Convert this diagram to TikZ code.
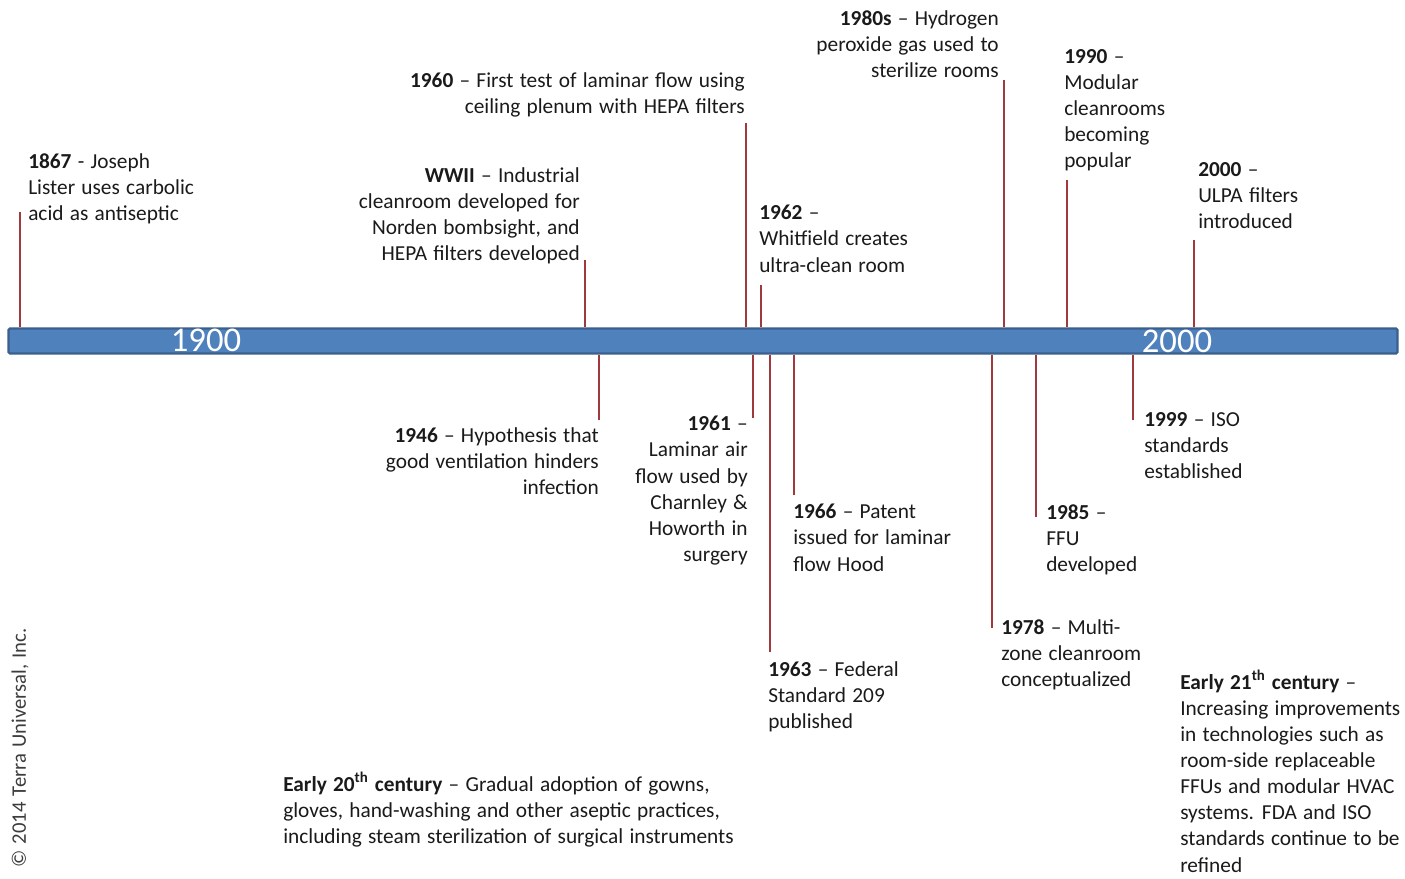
\documentclass[tikz,border=0pt]{standalone}
\usepackage{fontspec}
\setmainfont{Carlito}[WordSpace=1.3]
\usepackage{tikz}
\usetikzlibrary{positioning}
\definecolor{barblue}{HTML}{4F81BD}
\definecolor{bardark}{HTML}{3A5F8C}
\definecolor{stemred}{HTML}{A0393B}
\definecolor{ink}{HTML}{1A1A1A}

\begin{document}
\begin{tikzpicture}[
  x=0.75pt,y=-0.75pt,
  note/.style={anchor=north west,align=left,inner sep=0pt,text=ink,font=\fontsize{16}{19.6}\selectfont},
  noter/.style={note,anchor=north east,align=right},
  stem/.style={draw=stemred,line width=1.5pt},
  bar/.style={draw=bardark,fill=barblue,line width=1.6pt,rounded corners=1pt,minimum width=1389*0.75pt,minimum height=25*0.75pt,inner sep=0pt},
  year/.style={text=white,inner sep=0pt,font=\fontsize{26}{26}\selectfont}
]
\useasboundingbox (0,0) rectangle (1405,878);
% the time bar
\node[bar] (bar) at (703,341) {};
\node[year] (y1900) at (206,340) {1900};
\node[year] (y2000) at (1177,341) {2000};

% events above the bar
\node[note] (n1867) at (28,153) {\textbf{1867} - Joseph\\Lister uses carbolic\\acid as antiseptic};
\node[noter] (nwwii) at (580,167) {\textbf{WWII} -- Industrial\\cleanroom developed for\\Norden bombsight, and\\HEPA filters developed};
\node[noter] (n1960) at (745,72) {\textbf{1960} -- First test of laminar flow using\\ceiling plenum with HEPA filters};
\node[note] (n1962) at (759,205) {\textbf{1962} --\\Whitfield creates\\ultra-clean room};
\node[noter] (n1980) at (999,10) {\textbf{1980s} -- Hydrogen\\peroxide gas used to\\sterilize rooms};
\node[note] (n1990) at (1064,49) {\textbf{1990} --\\Modular\\cleanrooms\\becoming\\popular};
\node[note] (n2000) at (1198,162) {\textbf{2000} --\\ULPA filters\\introduced};

% events below the bar
\node[noter] (n1946) at (599,427) {\textbf{1946} -- Hypothesis that\\good ventilation hinders\\infection};
\node[noter] (n1961) at (748,416) {\textbf{1961} --\\Laminar air\\flow used by\\Charnley \&\\Howorth in\\surgery};
\node[note] (n1966) at (793,504) {\textbf{1966} -- Patent\\issued for laminar\\flow Hood};
\node[note] (n1963) at (768,661) {\textbf{1963} -- Federal\\Standard 209\\published};
\node[note] (n1978) at (1001,619) {\textbf{1978} -- Multi-\\zone cleanroom\\conceptualized};
\node[note] (n1985) at (1046,504) {\textbf{1985} --\\FFU\\developed};
\node[note] (n1999) at (1144,412) {\textbf{1999} -- ISO\\standards\\established};

% eras
\node[note] (early20) at (283,772) {\textbf{Early 20\textsuperscript{th} century} -- Gradual adoption of gowns,\\gloves, hand-washing and other aseptic practices,\\including steam sterilization of surgical instruments};
\node[note] (early21) at (1180,670) {\textbf{Early 21\textsuperscript{th} century} --\\Increasing improvements\\in technologies such as\\room-side replaceable\\FFUs and modular HVAC\\systems. FDA and ISO\\standards continue to be\\refined};

\node[rotate=90,inner sep=0pt,text=ink!85,font=\fontsize{15.5}{15.5}\selectfont] (copy) at (20,748) {\textcopyright{} 2014 Terra Universal, Inc.};

% stems
\coordinate (s1867) at (20,212);
\coordinate (swwii) at (585,260);
\coordinate (s1960) at (746,123);
\coordinate (s1962) at (761,285);
\coordinate (s1980) at (1004,80);
\coordinate (s1990) at (1067,180);
\coordinate (s2000) at (1194,240);
\coordinate (s1946) at (599,420);
\coordinate (s1961) at (753,418);
\coordinate (s1963) at (770,652);
\coordinate (s1966) at (794,495);
\coordinate (s1978) at (992,628);
\coordinate (s1985) at (1036,517);
\coordinate (s1999) at (1133,420);
\foreach \s in {s1867,swwii,s1960,s1962,s1980,s1990,s2000}
  \draw[stem] (\s) -- (\s |- bar.north);
\foreach \s in {s1946,s1961,s1963,s1966,s1978,s1985,s1999}
  \draw[stem] (\s) -- (\s |- bar.south);
\end{tikzpicture}
\end{document}
